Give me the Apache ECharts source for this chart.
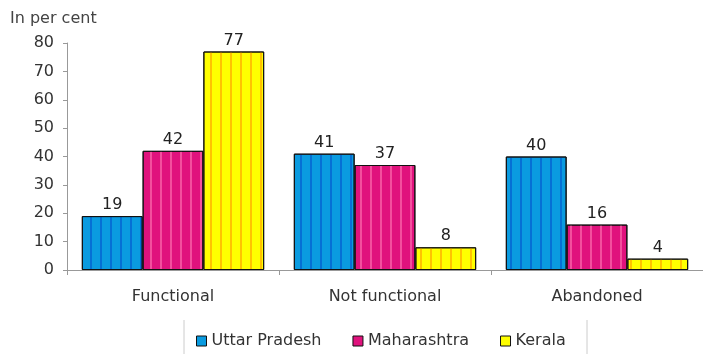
<!DOCTYPE html>
<html>
<head>
<meta charset="utf-8">
<script src="https://cdn.jsdelivr.net/npm/echarts@6/dist/echarts.min.js"></script>
<style>
  html, body { margin: 0; padding: 0; background: #fff; }
  #chart { width: 703px; height: 354px; }
</style>
</head>
<body>
<div id="chart"></div>
<script>
const categories = ["Functional", "Not functional", "Abandoned"];
const uttarPradesh = [19, 41, 40];
const maharashtra = [42, 37, 16];
const kerala = [77, 8, 4];
const seriesNames = ["Uttar Pradesh", "Maharashtra", "Kerala"];

const FONT = "DejaVu Sans, sans-serif";

// bar fill plus a darker vertical stripe on top of it
const makeBar = (name, data, fill, stripe) => ({
  name: name,
  type: "bar",
  data: data,
  barGap: 0,
  barCategoryGap: "14%",
  itemStyle: {
    color: fill,
    borderColor: "#111",
    borderWidth: 1,
    decal: {
      symbol: "rect",
      symbolSize: 1,
      color: stripe,
      dashArrayX: [[2, 8]],
      dashArrayY: [1, 0],
    },
  },
  label: {
    show: true,
    position: "top",
    distance: 3,
    color: "#222",
    fontSize: 16,
    fontFamily: FONT,
  },
});

const chart = echarts.init(document.getElementById("chart"), null, { renderer: "canvas" });

chart.setOption({
  animation: false,
  title: {
    text: "In per cent",
    left: 5,
    top: 6,
    textStyle: { color: "#444", fontSize: 16, fontWeight: "normal", fontFamily: FONT },
  },
  grid: { left: 67, top: 43, width: 639, height: 227, containLabel: false },
  legend: {
    data: seriesNames,
    left: 191,
    top: 328,
    itemWidth: 10,
    itemHeight: 10,
    itemGap: 31,
    icon: "rect",
    itemStyle: { borderColor: "#111", borderWidth: 1, decal: "none" },
    textStyle: { color: "#333", fontSize: 16, fontFamily: FONT },
  },
  graphic: [
    { type: "line", shape: { x1: 184, y1: 320, x2: 184, y2: 354 }, style: { stroke: "#ccc", lineWidth: 1 } },
    { type: "line", shape: { x1: 587, y1: 320, x2: 587, y2: 354 }, style: { stroke: "#ccc", lineWidth: 1 } },
  ],
  xAxis: {
    type: "category",
    data: categories,
    axisLine: { lineStyle: { color: "#999" } },
    axisTick: { show: true, length: 5, lineStyle: { color: "#999" } },
    axisLabel: { color: "#333", fontSize: 16, fontFamily: FONT, margin: 19 },
  },
  yAxis: {
    type: "value",
    min: 0,
    max: 80,
    interval: 10,
    axisLine: { show: true, lineStyle: { color: "#999" } },
    axisTick: { show: true, length: 4, lineStyle: { color: "#999" } },
    splitLine: { show: false },
    axisLabel: { color: "#333", fontSize: 16, fontFamily: FONT, margin: 13 },
  },
  series: [
    makeBar(seriesNames[0], uttarPradesh, "#0A9BE0", "rgba(0,60,200,0.45)"),
    makeBar(seriesNames[1], maharashtra, "#E0127D", "rgba(255,120,180,0.6)"),
    makeBar(seriesNames[2], kerala, "#FFFF00", "rgba(255,170,0,0.7)"),
  ],
});
</script>
</body>
</html>
